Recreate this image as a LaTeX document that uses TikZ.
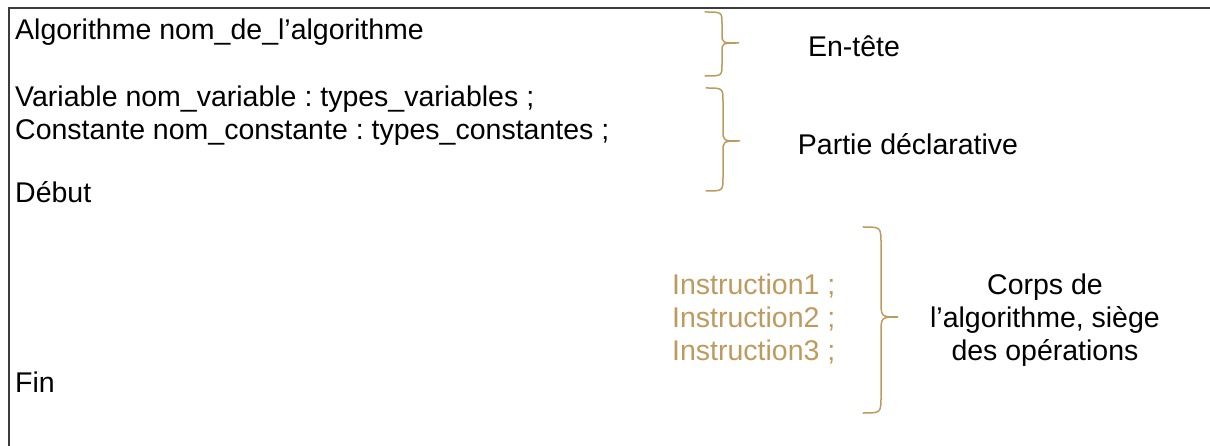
\documentclass[tikz,border=0pt]{standalone}
\usepackage{fontspec}
\setmainfont{Liberation Sans}
\frenchspacing
\definecolor{gold}{HTML}{BD9B5E}
\definecolor{framegray}{HTML}{3C3C3C}
\tikzset{
  txt/.style={inner sep=0pt, font=\fontsize{28.5}{33}\selectfont, text=black},
  instr/.style={txt, text=gold, align=left},
  brace/.style={draw=gold, line width=1.5pt, line cap=round},
  frameline/.style={draw=framegray, line width=2.4pt}
}
\begin{document}
\begin{tikzpicture}[x=1pt,y=-1pt]
  \useasboundingbox (0,0) rectangle (1210,446);

  % open frame: top and left edges only
  \coordinate (fTL) at (9,8);
  \coordinate (fTR) at (1212,8);
  \coordinate (fBL) at (9,448);
  \draw[frameline] (fTR) -- (fTL) -- (fBL);

  % pseudo-code skeleton
  \node[txt, anchor=base west] (head) at (15,39.5) {Algorithme nom\_de\_l’algorithme};
  \node[txt, anchor=base west] (var) at (15,106.5) {Variable nom\_variable : types\_variables ;};
  \node[txt, anchor=base west] (cst) at (15,139.5) {Constante nom\_constante : types\_constantes ;};
  \node[txt, anchor=base west] (debut) at (15,202.5) {Début};
  \node[txt, anchor=base west] (fin) at (15,392.5) {Fin};

  % instructions of the body
  \node[instr, anchor=west] (ins) at (672,319)
    {Instruction1 ;\\Instruction2 ;\\Instruction3 ;};

  % braces
  \draw[brace] (705,12) .. controls (722,12) .. (722,24) -- (722,34)
    .. controls (722,43) .. (739,43) .. controls (722,43) .. (722,52)
    -- (722,64) .. controls (722,76) .. (705,76);
  \draw[brace] (706,88) .. controls (723,88) .. (723,102) -- (723,130)
    .. controls (723,141) .. (740,141) .. controls (723,141) .. (723,152)
    -- (723,177) .. controls (723,191) .. (706,191);
  \draw[brace] (863,227) .. controls (881,227) .. (881,244) -- (881,300)
    .. controls (881,317) .. (898,317) .. controls (881,317) .. (881,334)
    -- (881,396) .. controls (881,413) .. (863,413);

  % labels of the three parts
  \node[txt, anchor=base] (lhead) at (854,56.5) {En-tête};
  \node[txt, anchor=base] (ldecl) at (908,154.5) {Partie déclarative};
  \node[txt, align=center, anchor=center] (lbody) at (1045,320)
    {Corps de\\l’algorithme, siège\\des opérations};
\end{tikzpicture}
\end{document}
